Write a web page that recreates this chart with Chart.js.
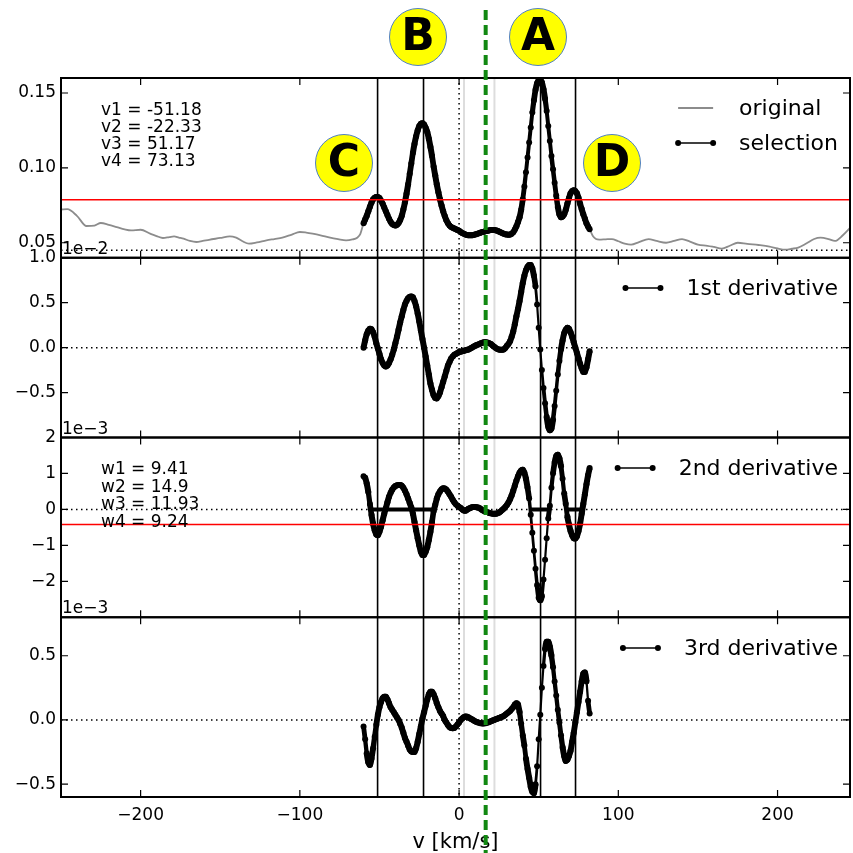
<!DOCTYPE html>
<html>
<head>
<meta charset="utf-8">
<script src="https://cdn.jsdelivr.net/npm/chart.js@4"></script>
<style>
html, body { margin: 0; padding: 0; background: #fff; }
#wrap { position: relative; width: 853px; height: 853px; }
</style>
</head>
<body>
<div id="wrap"><canvas id="chart" width="853" height="853"></canvas></div>
<script>
// selection grid (km/s)
const selV = [-60,-59,-58,-57,-56,-55,-54,-53,-52,-51,-50,-49,-48,-47,-46,-45,-44,-43,-42,-41,
  -40,-39,-38,-37,-36,-35,-34,-33,-32,-31,-30,-29,-28,-27,-26,-25,-24,-23,-22,-21,
  -20,-19,-18,-17,-16,-15,-14,-13,-12,-11,-10,-9,-8,-7,-6,-5,-4,-3,-2,-1,
  0,1,2,3,4,5,6,7,8,9,10,11,12,13,14,15,16,17,18,19,
  20,21,22,23,24,25,26,27,28,29,30,31,32,33,34,35,36,37,38,39,
  40,41,42,43,44,45,46,47,48,49,50,51,52,53,54,55,56,57,58,59,
  60,61,62,63,64,65,66,67,68,69,70,71,72,73,74,75,76,77,78,79,80,81,82];

// flux in the selection
const selFlux = [0.063,0.0655,0.068,0.071,0.074,0.0768,0.079,0.0801,0.0806,0.0805,0.0799,0.078,0.076,0.0735,0.071,0.0685,0.066,0.064,0.0626,0.0618,
  0.0616,0.062,0.0632,0.0652,0.068,0.0722,0.077,0.0828,0.089,0.096,0.103,0.110,0.116,0.121,0.125,0.128,0.1295,0.1298,0.129,0.1268,
  0.124,0.1195,0.114,0.108,0.101,0.095,0.089,0.0838,0.079,0.0748,0.071,0.0678,0.065,0.063,0.0615,0.0606,0.060,0.0595,0.059,0.0585,
  0.058,0.0572,0.0565,0.056,0.0555,0.0552,0.055,0.055,0.055,0.0552,0.0555,0.0558,0.0562,0.0566,0.057,0.0572,0.0575,0.0578,0.058,0.0583,
  0.0585,0.0586,0.0585,0.0583,0.058,0.0575,0.057,0.0565,0.056,0.0557,0.0555,0.0554,0.0555,0.056,0.057,0.0588,0.061,0.0638,0.067,0.072,
  0.079,0.0875,0.097,0.107,0.117,0.127,0.137,0.145,0.152,0.1565,0.1585,0.1588,0.157,0.1525,0.146,0.138,0.128,0.118,0.108,0.099,
  0.090,0.0815,0.074,0.069,0.067,0.0675,0.069,0.072,0.076,0.0798,0.083,0.0845,0.085,0.0845,0.083,0.080,0.076,0.0725,0.069,0.066,0.063,0.0608,0.059];

// derivatives (in units of the offset shown on each axis)
const d1 = [0.0,0.08,0.15,0.19,0.21,0.205,0.17,0.12,0.05,-0.01,-0.07,-0.13,-0.17,-0.20,-0.21,-0.20,-0.17,-0.13,-0.08,-0.02,
  0.05,0.12,0.20,0.28,0.35,0.42,0.48,0.52,0.55,0.565,0.57,0.56,0.52,0.46,0.38,0.29,0.19,0.095,0.0,-0.10,
  -0.20,-0.30,-0.40,-0.47,-0.53,-0.56,-0.565,-0.54,-0.50,-0.44,-0.38,-0.32,-0.26,-0.20,-0.16,-0.12,-0.10,-0.08,-0.07,-0.06,
  -0.05,-0.045,-0.04,-0.035,-0.03,-0.025,-0.02,-0.01,0.0,0.01,0.02,0.028,0.035,0.043,0.05,0.056,0.06,0.06,0.055,0.048,
  0.04,0.025,0.01,-0.003,-0.015,-0.022,-0.025,-0.024,-0.02,-0.005,0.02,0.04,0.07,0.12,0.18,0.26,0.35,0.43,0.52,0.62,
  0.72,0.80,0.86,0.90,0.92,0.92,0.88,0.80,0.68,0.48,0.22,-0.02,-0.25,-0.45,-0.62,-0.77,-0.88,-0.92,-0.90,-0.80,
  -0.65,-0.48,-0.30,-0.15,-0.02,0.08,0.16,0.20,0.22,0.21,0.17,0.12,0.06,0.0,-0.06,-0.12,-0.18,-0.23,-0.27,-0.27,-0.22,-0.13,-0.04];
const d2 = [0.92,0.88,0.72,0.48,0.15,-0.15,-0.40,-0.58,-0.70,-0.72,-0.62,-0.48,-0.30,-0.12,0.03,0.20,0.35,0.46,0.55,0.61,
  0.65,0.67,0.68,0.68,0.66,0.60,0.52,0.42,0.30,0.18,0.05,-0.12,-0.35,-0.58,-0.80,-1.00,-1.18,-1.27,-1.27,-1.18,
  -1.05,-0.85,-0.62,-0.35,-0.05,0.12,0.30,0.42,0.50,0.56,0.59,0.58,0.55,0.49,0.42,0.35,0.27,0.20,0.14,0.10,
  0.07,0.04,0.0,-0.03,-0.04,-0.01,0.02,0.04,0.06,0.07,0.07,0.06,0.05,0.03,0.0,-0.03,-0.05,-0.07,-0.08,-0.10,
  -0.11,-0.12,-0.12,-0.12,-0.11,-0.09,-0.06,-0.02,0.02,0.07,0.12,0.19,0.28,0.39,0.52,0.66,0.80,0.92,1.02,1.08,
  1.10,1.02,0.85,0.60,0.30,-0.15,-0.65,-1.15,-1.65,-2.10,-2.45,-2.53,-2.40,-1.95,-1.40,-0.80,-0.25,0.10,0.60,1.00,
  1.30,1.48,1.52,1.42,1.20,0.85,0.45,0.15,-0.20,-0.42,-0.60,-0.72,-0.80,-0.81,-0.75,-0.60,-0.40,-0.12,0.15,0.42,0.70,0.95,1.15];
const d3 = [-0.05,-0.15,-0.26,-0.33,-0.35,-0.30,-0.22,-0.13,-0.04,0.04,0.10,0.14,0.17,0.18,0.18,0.16,0.13,0.10,0.08,0.06,
  0.04,0.02,0.0,-0.03,-0.06,-0.10,-0.14,-0.17,-0.20,-0.23,-0.245,-0.25,-0.25,-0.22,-0.17,-0.11,-0.05,0.01,0.06,0.11,
  0.16,0.20,0.22,0.22,0.20,0.17,0.13,0.10,0.07,0.05,0.03,0.0,-0.02,-0.04,-0.055,-0.063,-0.065,-0.062,-0.05,-0.035,
  -0.02,0.0,0.012,0.022,0.027,0.026,0.02,0.012,0.005,-0.003,-0.01,-0.015,-0.02,-0.024,-0.026,-0.027,-0.026,-0.024,-0.02,-0.015,
  -0.01,-0.005,0.0,0.005,0.01,0.015,0.02,0.025,0.03,0.04,0.05,0.06,0.07,0.085,0.10,0.12,0.13,0.12,0.06,-0.03,
  -0.12,-0.20,-0.30,-0.38,-0.45,-0.52,-0.56,-0.57,-0.50,-0.36,-0.15,0.04,0.25,0.42,0.55,0.61,0.61,0.57,0.50,0.41,
  0.30,0.19,0.08,-0.02,-0.12,-0.21,-0.28,-0.32,-0.31,-0.28,-0.24,-0.17,-0.10,-0.02,0.06,0.14,0.22,0.30,0.36,0.37,0.30,0.15,0.05];

// original spectrum outside the selection
const origLeftV = [-250,-246,-240,-234,-229,-225,-220,-215,-210,-206,-200,-194,-190,-186,-182,-179,-176,-173,-169,-165,-161,-157,
  -150,-144,-140,-136,-132,-127,-121,-116,-111,-105,-100,-96,-92,-87,-81,-76,-71,-67,-64,-62];
const origLeftFlux = [0.0722,0.0724,0.068,0.0612,0.0615,0.0632,0.062,0.0605,0.059,0.0583,0.0587,0.0561,0.0545,0.0532,0.0538,0.0543,0.0535,0.0527,0.0512,0.0505,0.0512,0.052,
  0.0532,0.0543,0.0534,0.051,0.0494,0.0502,0.0516,0.0525,0.0534,0.0555,0.0572,0.0568,0.0561,0.055,0.0534,0.0524,0.0516,0.0522,0.0534,0.056];
const origRightV = [84,86,88,92,96,100,104,108,113,119,124,130,135,140,145,150,156,160,165,170,175,181,188,195,200,205,209,213,218,223,227,232,236,241,246];
const origRightFlux = [0.0545,0.0525,0.0521,0.0523,0.0525,0.051,0.0495,0.0488,0.0505,0.0525,0.0512,0.05,0.0512,0.0525,0.0508,0.0488,0.048,0.0472,0.0461,0.048,
  0.05,0.0492,0.0485,0.0475,0.0462,0.0454,0.046,0.0468,0.0495,0.0525,0.0534,0.0525,0.0512,0.055,0.0605];

// component velocities and widths
const compV = [-51.18, -22.33, 51.17, 73.13];
const compW = [9.41, 14.9, 11.93, 9.24];
const barSegments = [[-54.5, -15], [44, 57.5], [68, 78.5]];
const fluxThreshold = 0.0788;
const d2Threshold = -0.42;
const fluxBaseline = 0.045;
const centerV = 16.7;
const greyV = [3.1, 22.2];

// axes
const xTicks = [-200, -100, 0, 100, 200];
const y1Ticks = [0.05, 0.10, 0.15], y1Labels = ['0.05', '0.10', '0.15'];
const y2Ticks = [-0.5, 0, 0.5, 1.0], y2Labels = ['\u22120.5', '0.0', '0.5', '1.0'];
const y3Ticks = [-2, -1, 0, 1, 2], y3Labels = ['\u22122', '\u22121', '0', '1', '2'];
const y4Ticks = [-0.5, 0, 0.5], y4Labels = ['\u22120.5', '0.0', '0.5'];
const offsets = ['1e\u22122', '1e\u22123', '1e\u22123'];

const FONT = 'DejaVu Sans';
Chart.defaults.font.family = FONT;
Chart.defaults.font.size = 17;
Chart.defaults.color = '#000';

const toXY = (xs, ys) => xs.map((v, i) => ({x: v, y: ys[i]}));

const origV = origLeftV.concat(selV, origRightV);
const origFlux = origLeftFlux.concat(selFlux, origRightFlux);

const barData = [];
barSegments.forEach(s => {
  barData.push({x: s[0], y: 0}, {x: s[1], y: 0}, {x: s[1], y: null});
});

// densely sampled dots merge into a thick trace where the curve is shallow
function segWidth(c) {
  const len = Math.hypot(c.p1.x - c.p0.x, c.p1.y - c.p0.y);
  if (len < 10) return 6;
  return Math.max(2.2, 6 - (len - 10) * 0.4);
}

function selSet(label, ys, axis) {
  return {
    label, data: toXY(selV, ys), yAxisID: axis,
    borderColor: '#000', backgroundColor: '#000', borderWidth: 1.5,
    pointRadius: 3, pointBorderWidth: 0, pointHoverRadius: 3,
    cubicInterpolationMode: 'monotone', order: 0,
    segment: { borderWidth: segWidth }
  };
}

function yAxis(min, max, ticks, labels, weight) {
  return {
    type: 'linear', position: 'left', stack: 'panels', stackWeight: 1, weight,
    min, max,
    grid: { display: false, drawTicks: false },
    border: { display: false },
    afterBuildTicks: (ax) => { ax.ticks = ticks.map(v => ({value: v})); },
    afterFit: (ax) => { ax.width = 61; },
    ticks: { padding: 5, autoSkip: false, callback: (v, i) => labels[i] }
  };
}

const panelOf = ['y1', 'y2', 'y3', 'y4'];

const decor = {
  id: 'decor',
  beforeDatasetsDraw(chart) {
    const {ctx, chartArea: ca, scales} = chart;
    const x = scales.x;
    ctx.save();
    // light grey lines
    ctx.strokeStyle = '#dddddd';
    ctx.lineWidth = 2;
    greyV.forEach(v => {
      const px = x.getPixelForValue(v);
      ctx.beginPath(); ctx.moveTo(px, ca.top); ctx.lineTo(px, ca.bottom); ctx.stroke();
    });
    // dotted zero lines
    ctx.strokeStyle = '#000';
    ctx.lineWidth = 1.5;
    ctx.setLineDash([1.5, 3.5]);
    const px0 = x.getPixelForValue(0);
    ctx.beginPath(); ctx.moveTo(px0, ca.top); ctx.lineTo(px0, ca.bottom); ctx.stroke();
    const hz = [['y1', fluxBaseline], ['y2', 0], ['y3', 0], ['y4', 0]];
    hz.forEach(([id, val]) => {
      const py = scales[id].getPixelForValue(val);
      ctx.beginPath(); ctx.moveTo(ca.left, py); ctx.lineTo(ca.right, py); ctx.stroke();
    });
    ctx.setLineDash([]);
    // component lines
    ctx.lineWidth = 1.6;
    compV.forEach(v => {
      const px = x.getPixelForValue(v);
      ctx.beginPath(); ctx.moveTo(px, ca.top); ctx.lineTo(px, ca.bottom); ctx.stroke();
    });
    ctx.restore();
  },
  afterDatasetsDraw(chart) {
    const {ctx, chartArea: ca, scales} = chart;
    const x = scales.x;
    ctx.save();
    // thresholds
    ctx.strokeStyle = '#ff0000';
    ctx.lineWidth = 1.5;
    [['y1', fluxThreshold], ['y3', d2Threshold]].forEach(([id, val]) => {
      const py = scales[id].getPixelForValue(val);
      ctx.beginPath(); ctx.moveTo(ca.left, py); ctx.lineTo(ca.right, py); ctx.stroke();
    });
    // spines and inward ticks
    ctx.strokeStyle = '#000';
    const yTickSets = {y1: y1Ticks, y2: y2Ticks, y3: y3Ticks, y4: y4Ticks};
    panelOf.forEach(id => {
      const s = scales[id];
      ctx.lineWidth = 2;
      ctx.strokeRect(ca.left, s.top, ca.right - ca.left, s.bottom - s.top);
      ctx.lineWidth = 1.2;
      xTicks.forEach(v => {
        const px = x.getPixelForValue(v);
        ctx.beginPath();
        ctx.moveTo(px, s.top); ctx.lineTo(px, s.top + 7);
        ctx.moveTo(px, s.bottom); ctx.lineTo(px, s.bottom - 7);
        ctx.stroke();
      });
      yTickSets[id].forEach(v => {
        const py = s.getPixelForValue(v);
        ctx.beginPath();
        ctx.moveTo(ca.left, py); ctx.lineTo(ca.left + 7, py);
        ctx.moveTo(ca.right, py); ctx.lineTo(ca.right - 7, py);
        ctx.stroke();
      });
    });
    // offset labels
    ctx.fillStyle = '#000';
    ctx.font = '17px "' + FONT + '"';
    ctx.textAlign = 'left';
    ctx.textBaseline = 'alphabetic';
    ['y2', 'y3', 'y4'].forEach((id, i) => {
      ctx.fillText(offsets[i], ca.left + 1, scales[id].top - 4);
    });
    // component text
    const vLines = compV.map((v, i) => 'v' + (i + 1) + ' = ' + v.toFixed(2));
    const wLines = compW.map((w, i) => 'w' + (i + 1) + ' = ' + w);
    vLines.forEach((t, i) => ctx.fillText(t, 101, 115 + i * 17));
    wLines.forEach((t, i) => ctx.fillText(t, 101, 474 + i * 17.6));
    // legends
    ctx.font = '22px "' + FONT + '"';
    ctx.textBaseline = 'middle';
    const legends = [
      {rows: [['original', 'grey', 108], ['selection', 'dots', 143]]},
      {rows: [['1st derivative', 'dots', 288]]},
      {rows: [['2nd derivative', 'dots', 468]]},
      {rows: [['3rd derivative', 'dots', 648]]}
    ];
    legends.forEach(lg => {
      const wmax = Math.max(...lg.rows.map(r => ctx.measureText(r[0]).width));
      const tx = 838 - wmax;
      lg.rows.forEach(([t, kind, y]) => {
        const x0 = tx - 61, x1 = tx - 26;
        ctx.beginPath();
        ctx.strokeStyle = kind === 'grey' ? '#8c8c8c' : '#000';
        ctx.lineWidth = kind === 'grey' ? 1.8 : 1.5;
        ctx.moveTo(x0, y); ctx.lineTo(x1, y); ctx.stroke();
        if (kind === 'dots') {
          ctx.fillStyle = '#000';
          [x0, x1].forEach(px => { ctx.beginPath(); ctx.arc(px, y, 3, 0, Math.PI * 2); ctx.fill(); });
        }
        ctx.fillStyle = '#000';
        ctx.fillText(t, tx, y + 1);
      });
    });
    ctx.restore();
  },
  afterDraw(chart) {
    const {ctx, scales} = chart;
    const x = scales.x;
    ctx.save();
    // centre velocity
    const pc = x.getPixelForValue(centerV);
    ctx.strokeStyle = '#118811';
    ctx.lineWidth = 4;
    ctx.setLineDash([10, 5]);
    ctx.beginPath(); ctx.moveTo(pc, 10); ctx.lineTo(pc, 853); ctx.stroke();
    ctx.setLineDash([]);
    // badges
    const badges = [['B', 418, 37], ['A', 538, 37], ['C', 344, 163], ['D', 612, 163]];
    ctx.font = 'bold 44px "' + FONT + '"';
    ctx.textAlign = 'center';
    ctx.textBaseline = 'middle';
    badges.forEach(([t, bx, by]) => {
      ctx.beginPath();
      ctx.arc(bx, by, 28.5, 0, Math.PI * 2);
      ctx.fillStyle = '#ffff00';
      ctx.fill();
      ctx.strokeStyle = '#4f7fc4';
      ctx.lineWidth = 1;
      ctx.stroke();
      ctx.fillStyle = '#000';
      ctx.fillText(t, bx, by + 2);
    });
    ctx.restore();
  }
};

new Chart(document.getElementById('chart'), {
  type: 'line',
  data: {
    datasets: [
      selSet('selection', selFlux, 'y1'),
      {
        label: 'original', data: toXY(origV, origFlux), yAxisID: 'y1',
        borderColor: '#8c8c8c', borderWidth: 1.8, pointRadius: 0,
        cubicInterpolationMode: 'monotone', order: 1
      },
      selSet('1st derivative', d1, 'y2'),
      selSet('2nd derivative', d2, 'y3'),
      {
        label: 'widths', data: barData, yAxisID: 'y3',
        borderColor: '#000', borderWidth: 4, pointRadius: 0, spanGaps: false, order: 1
      },
      selSet('3rd derivative', d3, 'y4')
    ]
  },
  options: {
    responsive: false,
    animation: false,
    layout: { padding: { top: 78, right: 1, left: 0, bottom: 0 } },
    plugins: { legend: { display: false }, tooltip: { enabled: false } },
    scales: {
      x: {
        type: 'linear', position: 'bottom', min: -250, max: 245.5,
        grid: { display: false, drawTicks: false },
        border: { display: false },
        afterBuildTicks: (ax) => { ax.ticks = xTicks.map(v => ({value: v})); },
        afterFit: (ax) => { ax.height = 56; },
        ticks: { padding: 8, autoSkip: false, maxRotation: 0,
          callback: (v) => (v < 0 ? '\u2212' + Math.abs(v) : String(v)) },
        title: { display: true, text: 'v [km/s]', font: { size: 21 }, padding: { top: 0, bottom: -2 } }
      },
      y1: yAxis(0.04, 0.16, y1Ticks, y1Labels, 4),
      y2: yAxis(-1.0, 1.0, y2Ticks, y2Labels, 3),
      y3: yAxis(-3, 2, y3Ticks, y3Labels, 2),
      y4: yAxis(-0.6, 0.8, y4Ticks, y4Labels, 1)
    }
  },
  plugins: [decor]
});
</script>
</body>
</html>
